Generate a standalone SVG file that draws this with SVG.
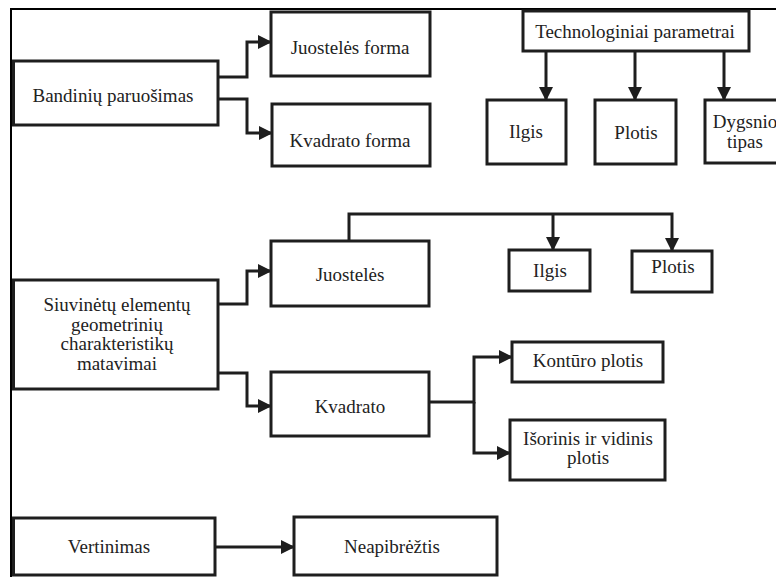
<svg xmlns="http://www.w3.org/2000/svg" width="776" height="577" viewBox="0 0 776 577">
<style>
.box{fill:#fff;stroke:#1e1e1e;stroke-width:3}
.t{font-size:19px;fill:#222;text-anchor:middle}
.c{fill:none;stroke:#1e1e1e;stroke-width:3}
</style>
<defs>
<marker id="ah" viewBox="0 0 14 14" refX="13" refY="7" markerWidth="14" markerHeight="14" markerUnits="userSpaceOnUse" orient="auto">
<path d="M0,0 L14,7 L0,14 z" fill="#1e1e1e"/>
</marker>
</defs>
<rect x="0" y="0" width="776" height="577" fill="#fff"/>
<rect x="11" y="9" width="800" height="600" fill="none" stroke="#000" stroke-width="2"/>
<g id="connectors">
<path class="c" d="M218,77 H247 V42 H271" marker-end="url(#ah)"/>
<path class="c" d="M218,99 H247 V133 H272" marker-end="url(#ah)"/>
<path class="c" d="M546,51 V100" marker-end="url(#ah)"/>
<path class="c" d="M635,51 V100" marker-end="url(#ah)"/>
<path class="c" d="M724,51 V100" marker-end="url(#ah)"/>
<path class="c" d="M218,304 H247 V271 H271" marker-end="url(#ah)"/>
<path class="c" d="M218,373 H247 V406 H271" marker-end="url(#ah)"/>
<path class="c" d="M349,241 V214 H672 V251" marker-end="url(#ah)"/>
<path class="c" d="M553,214 V250" marker-end="url(#ah)"/>
<path class="c" d="M429,402 H474 V357 H512" marker-end="url(#ah)"/>
<path class="c" d="M474,402 V453 H510" marker-end="url(#ah)"/>
<path class="c" d="M215,547 H294" marker-end="url(#ah)"/>
</g>
<g font-family="Liberation Serif, Times New Roman, DejaVu Serif, serif">
<g id="n_bandiniu"><rect class="box" x="13.5" y="61" width="204.5" height="64"/><text class="t" x="113" y="102">Bandinių paruošimas</text></g>
<g id="n_juost_forma"><rect class="box" x="271" y="12" width="159" height="64"/><text class="t" x="350" y="54">Juostelės forma</text></g>
<g id="n_kvad_forma"><rect class="box" x="272" y="104" width="158" height="62"/><text class="t" x="350" y="147">Kvadrato forma</text></g>
<g id="n_tech"><rect class="box" x="523" y="11" width="226" height="40"/><text class="t" x="635" y="38">Technologiniai parametrai</text></g>
<g id="n_ilgis1"><rect class="box" x="487" y="100" width="79" height="64"/><text class="t" x="526" y="138">Ilgis</text></g>
<g id="n_plotis1"><rect class="box" x="595" y="100" width="81" height="64"/><text class="t" x="636" y="139">Plotis</text></g>
<g id="n_dygsnio"><rect class="box" x="705" y="100" width="100" height="63"/><text class="t" x="745" y="128">Dygsnio</text><text class="t" x="745" y="148">tipas</text></g>
<g id="n_siuvinetu"><rect class="box" x="13.5" y="280" width="204.5" height="109"/><text class="t" x="117" y="311">Siuvinėtų elementų</text><text class="t" x="117" y="330.5">geometrinių</text><text class="t" x="117" y="350">charakteristikų</text><text class="t" x="117" y="369.5">matavimai</text></g>
<g id="n_juosteles"><rect class="box" x="271" y="241" width="158" height="65"/><text class="t" x="350" y="281">Juostelės</text></g>
<g id="n_kvadrato"><rect class="box" x="271" y="372" width="158" height="64"/><text class="t" x="350" y="413">Kvadrato</text></g>
<g id="n_ilgis2"><rect class="box" x="509" y="250" width="81" height="41"/><text class="t" x="550" y="277">Ilgis</text></g>
<g id="n_plotis2"><rect class="box" x="632" y="251" width="80" height="41"/><text class="t" x="673" y="273">Plotis</text></g>
<g id="n_konturo"><rect class="box" x="512" y="342" width="151" height="40"/><text class="t" x="588" y="367">Kontūro plotis</text></g>
<g id="n_isorinis"><rect class="box" x="510" y="420" width="155" height="60"/><text class="t" x="588" y="445">Išorinis ir vidinis</text><text class="t" x="588" y="464">plotis</text></g>
<g id="n_vertinimas"><rect class="box" x="13.5" y="518" width="201.5" height="57"/><text class="t" x="109" y="553">Vertinimas</text></g>
<g id="n_neapibreztis"><rect class="box" x="294" y="517" width="203" height="58"/><text class="t" x="392" y="553">Neapibrėžtis</text></g>
</g>
</svg>
